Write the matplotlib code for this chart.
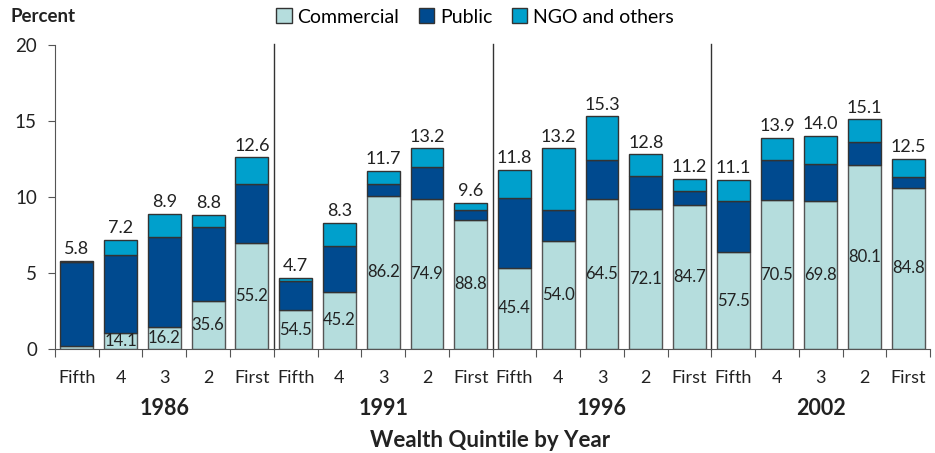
import matplotlib
matplotlib.use('Agg')
import matplotlib.pyplot as plt
from matplotlib.patches import Rectangle

plt.rcParams['font.family'] = ['Lato', 'DejaVu Sans']

# Datos
years = ['1986', '1991', '1996', '2002']
quintiles = ['Fifth', '4', '3', '2', 'First']
commercial = [0.20, 1.02, 1.44, 3.13, 6.96,
              2.56, 3.75, 10.09, 9.89, 8.52,
              5.36, 7.13, 9.87, 9.23, 9.49,
              6.38, 9.80, 9.77, 12.10, 10.60]
public = [5.55, 5.16, 5.91, 4.87, 3.90,
          1.94, 3.03, 0.77, 2.08, 0.60,
          4.55, 2.01, 2.56, 2.17, 0.90,
          3.33, 2.61, 2.43, 1.50, 0.70]
ngo = [0.05, 1.02, 1.55, 0.80, 1.74,
       0.20, 1.52, 0.84, 1.23, 0.48,
       1.89, 4.06, 2.87, 1.40, 0.81,
       1.39, 1.49, 1.80, 1.50, 1.20]
totals = ['5.8', '7.2', '8.9', '8.8', '12.6',
          '4.7', '8.3', '11.7', '13.2', '9.6',
          '11.8', '13.2', '15.3', '12.8', '11.2',
          '11.1', '13.9', '14.0', '15.1', '12.5']
comm_pct = ['', '14.1', '16.2', '35.6', '55.2',
            '54.5', '45.2', '86.2', '74.9', '88.8',
            '45.4', '54.0', '64.5', '72.1', '84.7',
            '57.5', '70.5', '69.8', '80.1', '84.8']
tot_vals = [float(t) for t in totals]

# Colores
c_com = '#b5dddd'
c_pub = '#004a8f'
c_ngo = '#00a0cc'
c_edge = '#555555'
c_txt = '#222222'

fig = plt.figure(figsize=(9.35, 4.53), dpi=100)
ax = fig.add_axes([0.0588, 0.2296, 0.936, 0.671])

x = list(range(len(commercial)))
w = 0.75
b2 = [c + p for c, p in zip(commercial, public)]
ax.bar(x, commercial, w, color=c_com, edgecolor=c_edge, linewidth=1)
ax.bar(x, public, w, bottom=commercial, color=c_pub, edgecolor='#333333', linewidth=1)
ax.bar(x, ngo, w, bottom=b2, color=c_ngo, edgecolor='#333333', linewidth=1)

# Etiquetas
for i in x:
    ax.text(i, tot_vals[i] + 0.25, totals[i], ha='center', va='bottom',
            fontsize=13, color=c_txt)
    if comm_pct[i]:
        ax.text(i, commercial[i] / 2, comm_pct[i], ha='center', va='center',
                fontsize=12, color=c_txt)

# Separadores entre años
for s in [4.5, 9.5, 14.5]:
    ax.plot([s, s], [0, 20.1], color='#333333', lw=1, clip_on=False)

ax.set_xlim(-0.5, 19.5)
ax.set_ylim(0, 20)
ax.set_yticks([0, 5, 10, 15, 20])
ax.tick_params(axis='y', labelsize=13.5, colors='#555555', labelcolor=c_txt,
               length=5, pad=8)
ax.set_xticks([i - 0.5 for i in range(21)])
ax.set_xticklabels([])
ax.tick_params(axis='x', length=6, colors='#555555')
for i in x:
    ax.text(i, -1.9, quintiles[i % 5], ha='center', va='center',
            fontsize=13, color=c_txt)
for k, yr in enumerate(years):
    ax.text(k * 5 + 2, -3.9, yr, ha='center', va='center',
            fontsize=15.5, fontweight='bold', color=c_txt)
ax.text(9.45, -6.0, 'Wealth Quintile by Year', ha='center', va='center',
        fontsize=16, fontweight='bold', color=c_txt)

for sp in ['top', 'right']:
    ax.spines[sp].set_visible(False)
ax.spines['left'].set_color('#555555')
ax.spines['bottom'].set_color('#555555')

fig.text(10 / 935, 1 - 17 / 453, 'Percent', ha='left', va='center',
         fontsize=13.5, fontweight='bold', color=c_txt)

# Leyenda
handles = [Rectangle((0, 0), 1, 1, facecolor=c, edgecolor='#333333', lw=1)
           for c in [c_com, c_pub, c_ngo]]
fig.legend(handles, ['Commercial', 'Public', 'NGO and others'],
           loc='center', bbox_to_anchor=(475 / 935, 1 - 17 / 453), ncol=3,
           frameon=False, fontsize=14, handlelength=0.8, handleheight=0.8,
           handletextpad=0.3, columnspacing=1.0, borderaxespad=0)

fig.savefig('out.png', dpi=100)
